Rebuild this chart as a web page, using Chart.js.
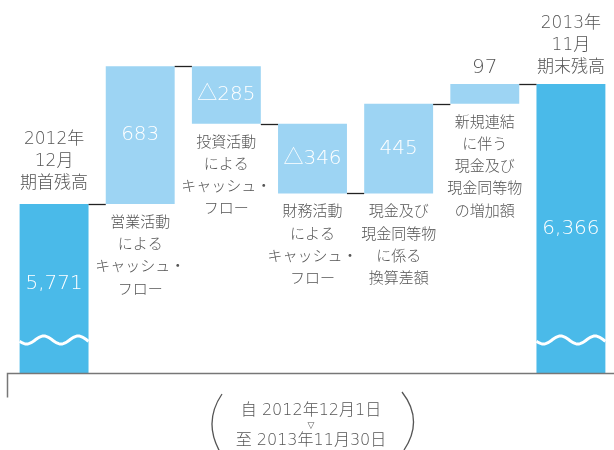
<!DOCTYPE html>
<html>
<head>
<meta charset="utf-8">
<script src="https://cdn.jsdelivr.net/npm/chart.js@4"></script>
<style>
  body { margin: 0; background: #fff; }
  #wrap { width: 614px; height: 450px; }
</style>
</head>
<body>
<div id="wrap"><canvas id="myChart"></canvas></div>
<script>
// categorias (lineas de la etiqueta)
const categories = [
    ['2012年', '12月', '期首残高'],
    ['営業活動', 'による', 'キャッシュ・', 'フロー'],
    ['投資活動', 'による', 'キャッシュ・', 'フロー'],
    ['財務活動', 'による', 'キャッシュ・', 'フロー'],
    ['現金及び', '現金同等物', 'に係る', '換算差額'],
    ['新規連結', 'に伴う', '現金及び', '現金同等物', 'の増加額'],
    ['2013年', '11月', '期末残高']
];
// saldo inicial, variaciones, saldo final (百万円)
const openingBalance = 5771;
const changes = [683, -285, -346, 445, 97];
const closingBalance = 6366;
const valueLabels = ['5,771', '683', '△285', '△346', '445', '97', '6,366'];
const axisBreak = 4933;   // eje cortado (linea ondulada)
const axisTop = 6782;

// rangos flotantes para el waterfall
const ranges = [[axisBreak, openingBalance]];
let running = openingBalance;
changes.forEach(c => {
    ranges.push([running, running + c]);
    running += c;
});
ranges.push([axisBreak, closingBalance]);

const dark = 'rgb(74, 186, 233)';
const light = 'rgb(157, 212, 243)';
const colors = ranges.map((r, i) => (i === 0 || i === ranges.length - 1) ? dark : light);

const textColor = '#555';
const jpFont = '"DejaVu Sans", "Noto Sans CJK JP", sans-serif';

const extras = {
    id: 'extras',
    afterDatasetsDraw(chart) {
        const c = chart.ctx;
        const y = chart.scales.y;
        const bars = chart.getDatasetMeta(0).data;
        const n = bars.length;
        c.save();

        // conectores
        c.strokeStyle = '#222';
        c.lineWidth = 1.3;
        for (let i = 0; i < n - 1; i++) {
            const py = Math.round(y.getPixelForValue(ranges[i][1])) + 0.5;
            c.beginPath();
            c.moveTo(bars[i].x + bars[i].width / 2, py);
            c.lineTo(bars[i + 1].x - bars[i + 1].width / 2, py);
            c.stroke();
        }

        // lineas onduladas en las barras de saldo
        [0, n - 1].forEach(i => {
            const b = bars[i];
            const x0 = b.x - b.width / 2, w = b.width;
            const wy = y.getPixelForValue(axisBreak) - 33;
            c.strokeStyle = '#fff';
            c.lineWidth = 3;
            c.beginPath();
            for (let k = 0; k <= 60; k++) {
                const px = x0 + w * k / 60;
                const py = wy + 4 * Math.sin(k / 60 * Math.PI * 4 + Math.PI * 0.1);
                if (k === 0) c.moveTo(px, py); else c.lineTo(px, py);
            }
            c.stroke();
        });

        // valores dentro de las barras
        c.textAlign = 'center';
        c.textBaseline = 'middle';
        for (let i = 0; i < n; i++) {
            const b = bars[i];
            const top = y.getPixelForValue(Math.max(...ranges[i]));
            const bot = y.getPixelForValue(Math.min(...ranges[i]));
            if (i === 5) {
                c.fillStyle = textColor;
                c.font = '200 20px ' + jpFont;
                c.fillText(valueLabels[i], b.x, top - 16);
            } else {
                c.fillStyle = '#fff';
                c.font = '200 20px ' + jpFont;
                let my = (top + bot) / 2;
                if (i === 0) my -= 5;
                c.fillText(valueLabels[i], b.x, my);
            }
        }

        // etiquetas de categoria
        c.fillStyle = textColor;
        const lh = 22.3;
        for (let i = 0; i < n; i++) {
            const b = bars[i];
            const lines = categories[i];
            if (i === 0 || i === n - 1) {
                c.font = '300 17px ' + jpFont;
                const top = y.getPixelForValue(ranges[i][1]);
                const offset = i === 0 ? 20 : 16;
                lines.forEach((t, k) => {
                    c.fillText(t, b.x, top - offset - (lines.length - 1 - k) * lh);
                });
            } else {
                c.font = '300 15px ' + jpFont;
                const bot = y.getPixelForValue(Math.min(...ranges[i]));
                lines.forEach((t, k) => {
                    c.fillText(t, b.x, bot + 19 + k * lh);
                });
            }
        }

        // eje inferior
        const ay = Math.round(y.getPixelForValue(axisBreak)) + 0.5;
        c.strokeStyle = '#777';
        c.lineWidth = 1.5;
        c.beginPath();
        c.moveTo(7.5, ay + 24);
        c.lineTo(7.5, ay);
        c.lineTo(chart.width, ay);
        c.stroke();

        // periodo
        const cx = 311;
        c.fillStyle = textColor;
        c.font = '300 16px ' + jpFont;
        c.fillText('自 2012年12月1日', cx, 411);
        c.fillText('至 2013年11月30日', cx, 441);
        c.font = '9px ' + jpFont;
        c.fillText('▽', cx, 426);
        c.strokeStyle = '#555';
        c.lineWidth = 1.3;
        c.beginPath();
        c.moveTo(222, 394);
        c.quadraticCurveTo(203, 422, 220, 452);
        c.stroke();
        c.beginPath();
        c.moveTo(402, 392);
        c.quadraticCurveTo(424, 420, 404, 450);
        c.stroke();

        c.restore();
    }
};

new Chart(document.getElementById('myChart'), {
    type: 'bar',
    data: {
        labels: categories,
        datasets: [{
            data: ranges,
            backgroundColor: colors,
            borderWidth: 0,
            categoryPercentage: 1,
            barPercentage: 0.8
        }]
    },
    options: {
        responsive: true,
        maintainAspectRatio: false,
        animation: false,
        layout: { padding: { left: 11, right: 0, top: 0, bottom: 77 } },
        plugins: { legend: { display: false }, tooltip: { enabled: false } },
        scales: {
            x: { display: false },
            y: { display: false, min: axisBreak, max: axisTop }
        }
    },
    plugins: [extras]
});
</script>
</body>
</html>
